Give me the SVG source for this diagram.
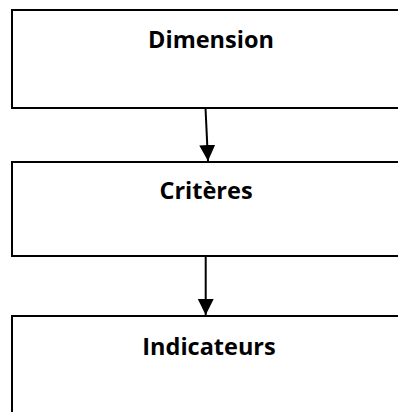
<svg xmlns="http://www.w3.org/2000/svg" width="398" height="412" viewBox="0 0 398 412">
  <defs>
    <style>
      .box { fill: #ffffff; stroke: #000000; stroke-width: 2; }
      .label { font-family: "Open Sans", "Liberation Sans", sans-serif; font-weight: bold; font-size: 23.5px; fill: #000000; text-anchor: middle; }
      .link { stroke: #000000; stroke-width: 2; fill: none; }
    </style>
    <marker id="arrow" markerUnits="userSpaceOnUse" markerWidth="16" markerHeight="16" viewBox="0 0 16 16" refX="16" refY="8" orient="auto">
      <path d="M0,0 L16,8 L0,16 Z" fill="#000000"/>
    </marker>
  </defs>
  <rect width="398" height="412" fill="#ffffff"/>

  <g id="node-dimension">
    <rect class="box" x="12" y="10" width="400" height="98"/>
    <text class="label" x="211" y="48">Dimension</text>
  </g>

  <g id="node-criteres">
    <rect class="box" x="12" y="162" width="400" height="94"/>
    <text class="label" x="206" y="199">Critères</text>
  </g>

  <g id="node-indicateurs">
    <rect class="box" x="12" y="316" width="400" height="110"/>
    <text class="label" x="209" y="355">Indicateurs</text>
  </g>

  <g id="connectors">
    <line class="link" x1="205.5" y1="108" x2="208" y2="161" marker-end="url(#arrow)"/>
    <line class="link" x1="205.7" y1="256" x2="205.7" y2="315" marker-end="url(#arrow)"/>
  </g>
</svg>
